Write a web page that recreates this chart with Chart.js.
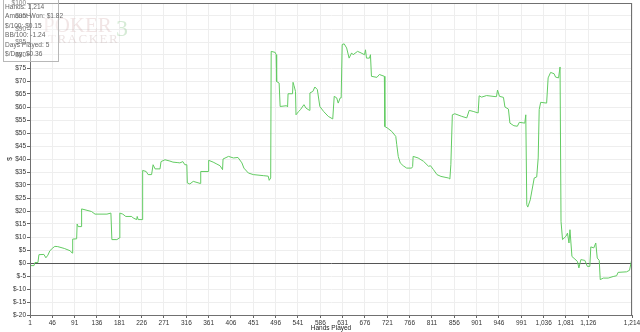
<!DOCTYPE html>
<html>
<head>
<meta charset="utf-8">
<script src="https://cdn.jsdelivr.net/npm/chart.js@4.4.1/dist/chart.umd.min.js"></script>
<style>
html,body{margin:0;padding:0;background:#fff;}
#wrap{width:640px;height:332px;position:relative;}
</style>
</head>
<body>
<div id="wrap"><canvas id="c" width="640" height="332"></canvas></div>
<script>
// Hands played (x) and cumulative amount won in $ (y)
const hands = [1,9,11,17,19,29,33,37,41,47,51,57,70,82,86,87,95,96,98,104,105,125,132,156,164,166,176,181,182,188,194,206,209,216,217,219,227,228,235,239,246,249,253,263,265,273,283,289,299,303,309,313,317,318,323,330,344,345,360,361,370,376,384,389,390,401,411,420,428,432,441,451,471,481,483,486,487,495,497,498,503,505,518,520,521,530,531,533,536,537,542,546,553,557,564,565,571,575,580,585,593,602,611,614,619,622,626,628,630,634,639,644,649,652,661,668,675,677,679,685,687,689,700,705,715,716,722,730,738,740,743,747,753,760,770,772,773,783,794,804,808,814,821,829,844,847,849,852,857,871,881,886,894,904,906,911,921,938,941,943,947,955,958,965,968,976,983,987,998,1000,1002,1004,1009,1017,1022,1025,1027,1030,1042,1045,1050,1057,1060,1066,1069,1071,1074,1081,1084,1087,1089,1093,1099,1104,1107,1111,1119,1124,1129,1131,1137,1141,1144,1148,1150,1156,1166,1176,1183,1186,1203,1209,1214];
const amountWon = [-1.0,-1.0,0.2,0.2,3.2,3.3,2.0,3.0,4.7,5.8,6.4,6.3,5.6,4.7,3.8,9.2,9.3,15,14,14,20.8,19.8,18.8,18.8,19.2,9.0,9.0,9.6,19.2,18.8,17.9,17.9,17.3,16.7,17.9,16.7,16.7,35.6,35.2,34,34,37.8,36.2,36.2,39,39.7,39.2,38.8,38.6,38.5,39,37.8,37.8,30.8,30.4,31.4,30.6,35.2,35.2,39.5,38.8,38.2,37.4,35.9,40,41,40.4,40.6,38.5,36.5,34.6,34,33.6,33.4,31.8,32.7,81.4,81,80.1,69.8,69.2,60.2,60.5,60.0,65.1,65.1,69.5,68.2,66,57,58.2,59,60.9,59.6,58.7,65.4,66,67.7,66.7,60.2,58.2,56.4,55.4,64.1,63.5,61.5,63.5,63.5,84,84.3,82.7,78.8,80.8,80.1,81.4,80.8,80.1,82,78.8,78.8,80.1,71.8,71.4,72.5,71.8,52.5,51.8,50.6,48.7,45.5,41,38.5,37.4,36.5,36.5,37.1,41,40.4,39.1,37.2,37.4,35.9,34,33.3,32.7,32.3,37.8,57,57.4,56.4,55.8,58.7,58.3,57.7,64.3,63.8,64.4,64.0,64.0,66.5,64.1,63.7,60,59.2,53.8,52.8,52.6,54.1,53.8,57,22.4,21.5,24.3,32.7,33.1,40.4,59,61.8,61.5,71.2,73.3,72.8,71.5,71.2,75.4,16,9,10.3,11.5,7.7,12.8,2.5,1.5,0.6,-1.9,1.3,1.0,-1.3,-1.3,6.2,5.8,7.7,1.9,1.0,-6.4,-5.8,-5.8,-5.2,-4.9,-3.6,-3.4,-2.8,1.82];
const xTickValues = [1,46,91,136,181,226,271,316,361,406,451,496,541,586,631,676,721,766,811,856,901,946,991,1036,1081,1126,1214];
const statLines = ["Hands: 1,214","Amount Won: $1.82","$/100: $0.15","BB/100: -1.24","Days Played: 5","$/Day: $0.36"];
const xTitle = "Hands Played";
const yTitle = "$";

const FONT = "Liberation Sans, Arial, sans-serif";

const framePlugin = {
  id: 'frame',
  beforeDatasetsDraw(chart) {
    const ctx = chart.ctx;
    ctx.save();
    // watermark
    ctx.textBaseline = 'alphabetic';
    ctx.font = '21px "Liberation Serif", serif';
    ctx.fillStyle = 'rgba(200,150,150,0.25)';
    ctx.fillText('POKER', 43, 32);
    ctx.fillStyle = 'rgba(120,190,120,0.30)';
    ctx.font = '24px "Liberation Serif", serif';
    ctx.fillText('3', 116, 36);
    ctx.font = '13px "Liberation Serif", serif';
    ctx.fillStyle = 'rgba(190,160,160,0.30)';
    ctx.letterSpacing = '1.5px';
    ctx.fillText('TRACKER', 48, 43);
    ctx.letterSpacing = '0px';
    ctx.restore();
  },
  afterDraw(chart) {
    const ctx = chart.ctx;
    const a = chart.chartArea;
    ctx.save();
    ctx.strokeStyle = '#707070';
    ctx.lineWidth = 1;
    ctx.strokeRect(Math.round(a.left) + 0.5, Math.round(a.top) + 0.5, Math.round(a.right - a.left) - 1, Math.round(a.bottom - a.top));
    // axis titles
    ctx.fillStyle = '#222';
    ctx.font = '6.5px ' + FONT;
    ctx.textAlign = 'center';
    ctx.textBaseline = 'middle';
    ctx.fillText(xTitle, (a.left + a.right) / 2, 328);
    ctx.save();
    ctx.translate(10, (a.top + a.bottom) / 2);
    ctx.rotate(-Math.PI / 2);
    ctx.fillText(yTitle, 0, 0);
    ctx.restore();
    // stats box
    ctx.fillStyle = 'rgba(255,255,255,0.35)';
    ctx.fillRect(3, 0, 56, 62);
    ctx.strokeStyle = '#b8b8b8';
    ctx.strokeRect(3.5, -0.5, 55, 62);
    ctx.fillStyle = '#666';
    ctx.font = '6.6px ' + FONT;
    ctx.textAlign = 'left';
    ctx.textBaseline = 'middle';
    statLines.forEach((t, i) => ctx.fillText(t, 5, 6.8 + i * 9.5));
    ctx.restore();
  }
};

new Chart(document.getElementById('c'), {
  type: 'line',
  data: {
    datasets: [{
      data: hands.map((h, i) => ({x: h, y: amountWon[i]})),
      borderColor: '#62cb62',
      borderWidth: 1,
      pointRadius: 0,
      tension: 0,
      fill: false
    }]
  },
  options: {
    responsive: false,
    animation: false,
    devicePixelRatio: 1,
    layout: {padding: {top: 3, right: 8, left: 0, bottom: 0}},
    plugins: {legend: {display: false}, tooltip: {enabled: false}},
    scales: {
      x: {
        type: 'linear',
        min: 1,
        max: 1214,
        afterBuildTicks: s => { s.ticks = xTickValues.map(v => ({value: v})); },
        afterFit: s => { s.height = 17; s.paddingLeft = 0; s.paddingRight = 0; },
        ticks: {
          autoSkip: false, maxRotation: 0, minRotation: 0, padding: 1,
          color: '#333', font: {family: FONT, size: 6.5},
          callback: v => Number(v).toLocaleString('en-US')
        },
        grid: {color: '#eeeeee', tickColor: '#666', tickLength: 3, lineWidth: 1},
        border: {color: '#707070'}
      },
      y: {
        min: -20,
        max: 100,
        afterFit: s => { s.width = 30; s.paddingTop = 0; s.paddingBottom = 0; },
        ticks: {
          stepSize: 5, padding: 1,
          color: '#333', font: {family: FONT, size: 6.5},
          callback: v => '$' + v
        },
        grid: {
          color: c => (c.tick && c.tick.value === 0) ? '#555555' : '#eeeeee',
          tickColor: '#666', tickLength: 3, lineWidth: 1
        },
        border: {color: '#707070'}
      }
    }
  },
  plugins: [framePlugin]
});
</script>
</body>
</html>
